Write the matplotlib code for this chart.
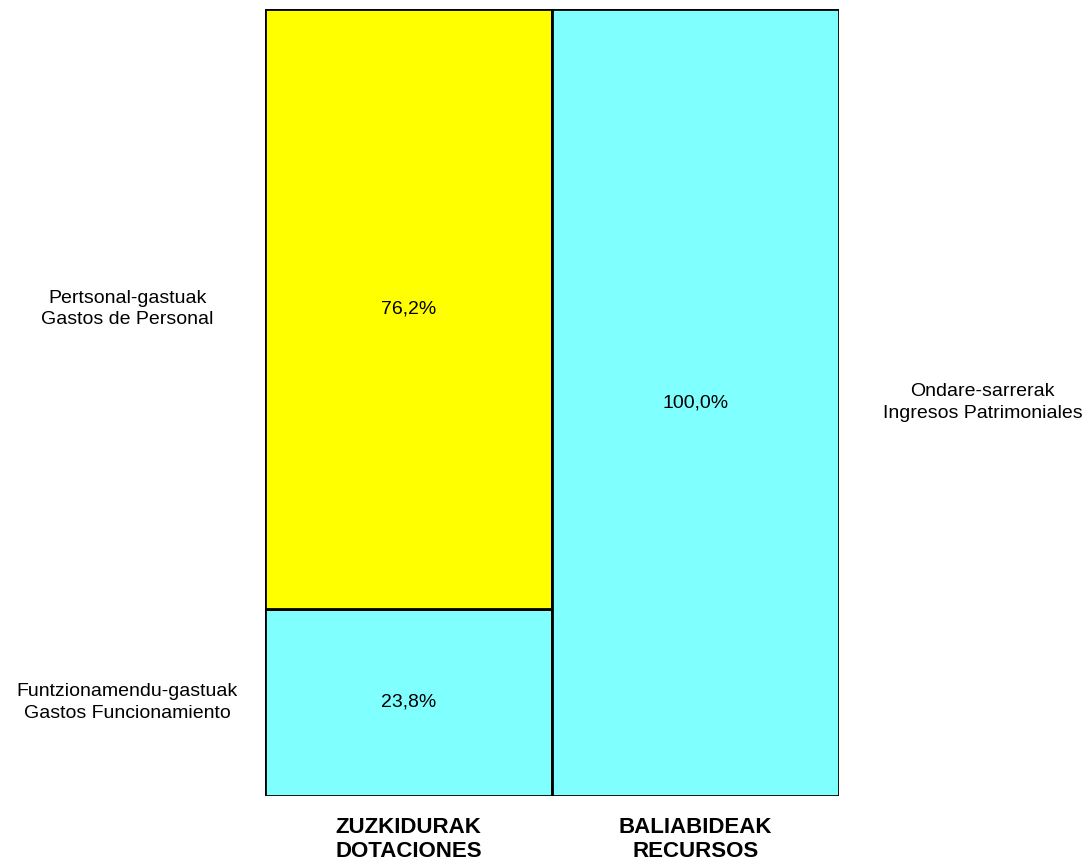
import matplotlib
matplotlib.use("Agg")
import matplotlib.pyplot as plt

plt.rcParams['font.family'] = ['Liberation Sans', 'DejaVu Sans']

# Datuak
columns = ['ZUZKIDURAK\nDOTACIONES', 'BALIABIDEAK\nRECURSOS']
left_segments = ['Funtzionamendu-gastuak\nGastos Funcionamiento', 'Pertsonal-gastuak\nGastos de Personal']
left_values = [23.8, 76.2]
left_colors = ['#80FFFF', '#FFFF00']
right_segments = ['Ondare-sarrerak\nIngresos Patrimoniales']
right_values = [100.0]
right_colors = ['#80FFFF']

fig = plt.figure(figsize=(10.92, 8.64), dpi=100)
ax = fig.add_axes([265 / 1092, 1 - 796 / 864, (839 - 265) / 1092, (796 - 9) / 864])

fs = 14


def pct(v):
    return f"{v:.1f}%".replace('.', ',')


def stack(x, values, colors, names, side):
    bottom = 0
    for v, c, name in zip(values, colors, names):
        ax.bar(x, v, width=1.0, bottom=bottom, color=c, edgecolor='black', linewidth=2)
        mid = bottom + v / 2
        ax.text(x, mid, pct(v), ha='center', va='center', fontsize=fs)
        lx = -0.98 if side == 'left' else 2.0
        ax.text(lx, mid, name, ha='center', va='center', fontsize=fs, linespacing=1.35)
        bottom += v


stack(0, left_values, left_colors, left_segments, 'left')
stack(1, right_values, right_colors, right_segments, 'right')

ax.set_xlim(-0.5, 1.5)
ax.set_ylim(0, 100)
ax.axis('off')

for i, name in enumerate(columns):
    ax.text(i, -2.7, name, ha='center', va='top', fontsize=16, fontweight='bold',
            linespacing=1.2)

fig.savefig('out.png', dpi=100)
